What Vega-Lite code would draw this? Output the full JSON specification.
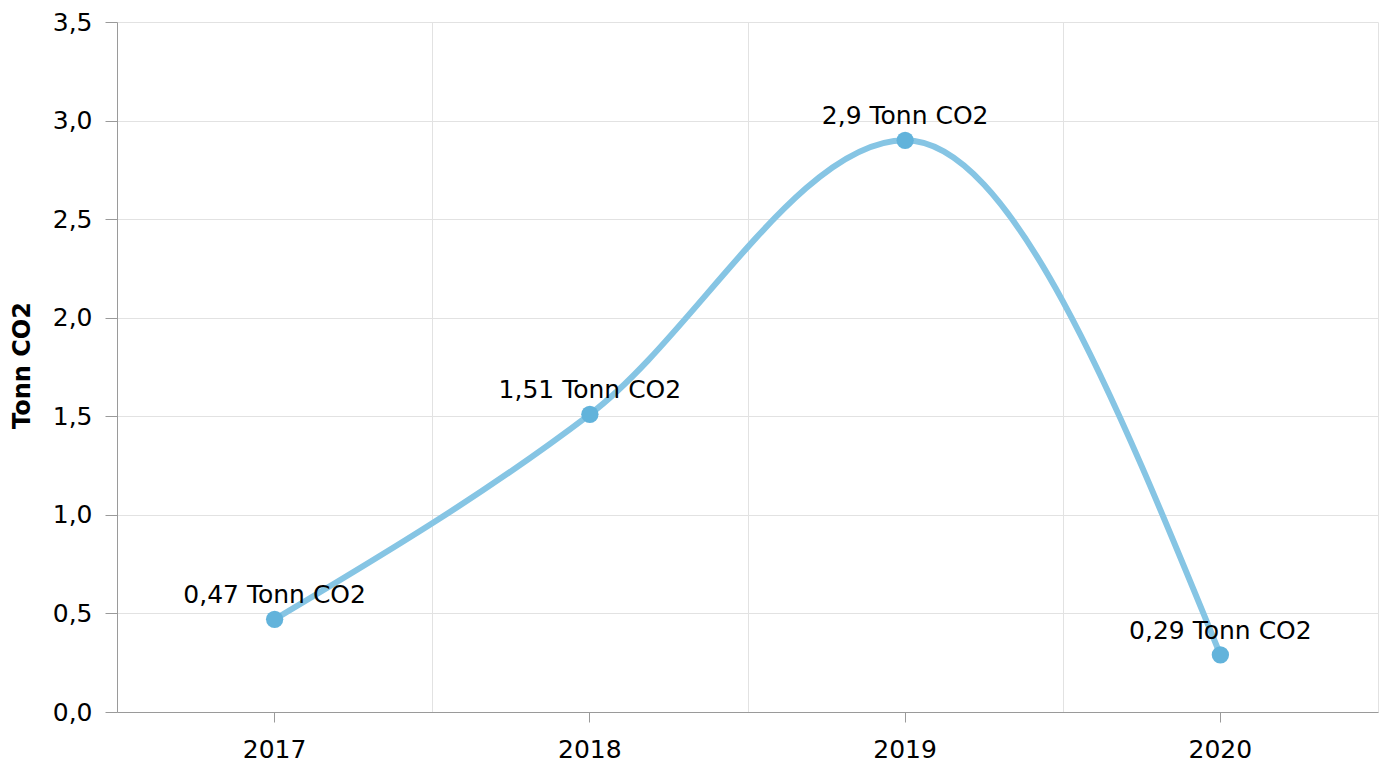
{
  "$schema": "https://vega.github.io/schema/vega-lite/v6.json",
  "autosize": "none",
  "width": 1261,
  "height": 690,
  "padding": {"left": 117, "top": 22, "right": 10, "bottom": 51},
  "background": "white",
  "data": {
    "values": [
      {"year": "2017", "value": 0.47, "label": "0,47 Tonn CO2"},
      {"year": "2018", "value": 1.51, "label": "1,51 Tonn CO2"},
      {"year": "2019", "value": 2.9, "label": "2,9 Tonn CO2"},
      {"year": "2020", "value": 0.29, "label": "0,29 Tonn CO2"}
    ]
  },
  "config": {
    "font": "DejaVu Sans",
    "view": {"stroke": null},
    "axis": {
      "labelFont": "DejaVu Sans",
      "titleFont": "DejaVu Sans",
      "labelColor": "#000",
      "gridColor": "#e2e2e2",
      "gridWidth": 1,
      "domainColor": "#9a9a9a",
      "tickColor": "#9a9a9a"
    }
  },
  "layer": [
    {
      "mark": {"type": "line", "interpolate": "monotone", "color": "#86C5E4", "strokeWidth": 6},
      "encoding": {
        "x": {
          "field": "year", "type": "ordinal", "bandPosition": 0.5,
          "scale": {"type": "band", "paddingInner": 0, "paddingOuter": 0},
          "axis": {"orient": "bottom", "grid": true, "tickBand": "extent", "labels": false, "ticks": false, "domain": false, "title": null}
        },
        "y": {
          "field": "value", "type": "quantitative",
          "scale": {"domain": [0, 3.5], "nice": false},
          "axis": {
            "title": "Tonn CO2", "titleFontSize": 24, "titleFontWeight": "bold", "titleColor": "#000",
            "titleX": -95, "titleY": 343, "titleBaseline": "middle", "titleAlign": "center", "titleAngle": -90,
            "values": [0, 0.5, 1, 1.5, 2, 2.5, 3, 3.5],
            "format": ".1f",
            "labelExpr": "replace(datum.label, '.', ',')",
            "labelFontSize": 25, "labelPadding": 13, "tickSize": 12,
            "grid": true
          }
        }
      }
    },
    {
      "mark": {"type": "point", "filled": true, "opacity": 1, "size": 300, "color": "#62B3DB", "shape": "circle"},
      "encoding": {
        "x": {
          "field": "year", "type": "ordinal", "bandPosition": 0.5,
          "axis": {"orient": "bottom", "grid": false, "labelAngle": 0, "labelFontSize": 25, "labelBaseline": "alphabetic", "labelPadding": 35, "tickSize": 10, "title": null, "domain": true}
        },
        "y": {"field": "value", "type": "quantitative"}
      }
    },
    {
      "mark": {"type": "text", "fontSize": 25, "color": "#000", "baseline": "alphabetic", "dy": -16, "align": "center"},
      "encoding": {
        "x": {"field": "year", "type": "ordinal", "bandPosition": 0.5, "axis": null},
        "y": {"field": "value", "type": "quantitative"},
        "text": {"field": "label"}
      }
    }
  ],
  "resolve": {"axis": {"x": "independent"}}
}
